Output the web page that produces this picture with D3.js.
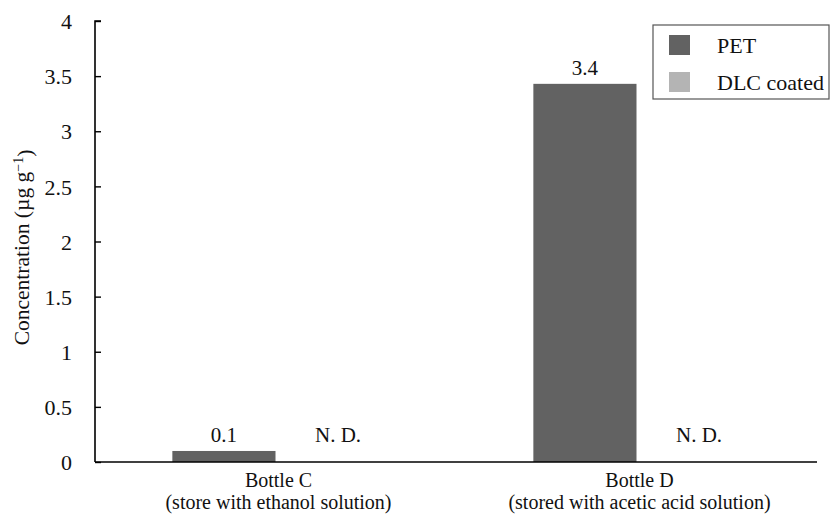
<!DOCTYPE html>
<html>
<head>
<meta charset="utf-8">
<script src="https://cdn.jsdelivr.net/npm/d3@7"></script>
<style>
  html, body { margin: 0; padding: 0; background: #fff; }
  svg text { font-family: "Liberation Serif", "Tinos", "Times New Roman", "DejaVu Serif", serif; fill: #111; }
</style>
</head>
<body>
<svg id="chart" width="831" height="515"></svg>
<script>
// Bottles and their storage solutions
const bottles = ["Bottle C", "Bottle D"];
const solutions = ["(store with ethanol solution)", "(stored with acetic acid solution)"];
// Series: uncoated PET and DLC-coated bottles (null = not detected)
const seriesNames = ["PET", "DLC coated"];
const petValues = [0.1, 3.43];
const dlcValues = [null, null];
const seriesColors = ["#626262", "#b4b4b4"];
const yTicks = [0, 0.5, 1, 1.5, 2, 2.5, 3, 3.5, 4];

const FONT = '"Liberation Serif", "Tinos", "Times New Roman", "DejaVu Serif", serif';
const svg = d3.select("#chart");
const margin = { left: 95, right: 14, top: 21, bottom: 53 };
const W = 831, H = 515;

const x0 = d3.scaleBand().domain(bottles).range([margin.left, W - margin.right]).paddingInner(0).paddingOuter(0);
const x1 = d3.scaleBand().domain(seriesNames).range([0, x0.bandwidth()]).paddingInner(0).paddingOuter(0.75);
const y = d3.scaleLinear().domain([0, 4]).range([H - margin.bottom, margin.top]);

const rows = bottles.map((b, i) => ({ bottle: b, values: [petValues[i], dlcValues[i]] }));

function label(sel, size) {
  return sel.style("font-family", FONT).style("font-size", size + "px");
}

// Bars
const g = svg.append("g");
rows.forEach(r => {
  r.values.forEach((v, j) => {
    const bx = x0(r.bottle) + x1(seriesNames[j]);
    if (v === null) {
      label(g.append("text"), 21)
        .attr("x", bx + x1.bandwidth() / 2 + 11)
        .attr("y", y(0) - 20)
        .attr("text-anchor", "middle")
        .text("N. D.");
      return;
    }
    g.append("rect")
      .attr("x", bx)
      .attr("y", y(v))
      .attr("width", x1.bandwidth())
      .attr("height", y(0) - y(v))
      .attr("fill", seriesColors[j]);
    label(g.append("text"), 21)
      .attr("x", bx + x1.bandwidth() / 2)
      .attr("y", y(v) - 9)
      .attr("text-anchor", "middle")
      .text(v.toFixed(1));
  });
});

// Y axis with inward ticks
const yAxis = d3.axisRight(y).tickValues(yTicks).tickSize(6).tickFormat(d3.format("~g"));
const ya = svg.append("g").attr("transform", `translate(${margin.left},0)`).call(yAxis);
ya.attr("font-family", null).attr("font-size", null);
ya.select(".domain").attr("stroke", "#000").attr("stroke-width", 1.6).attr("d", `M6,${y(4)}H0V${y(0)}`);
ya.selectAll(".tick line").attr("stroke", "#000").attr("stroke-width", 1.4);
label(ya.selectAll(".tick text"), 22)
  .attr("x", -23).attr("dy", "0.35em").attr("text-anchor", "end").attr("fill", "#111");

// X axis baseline
svg.append("line")
  .attr("x1", margin.left).attr("x2", W - margin.right)
  .attr("y1", y(0)).attr("y2", y(0))
  .attr("stroke", "#000").attr("stroke-width", 1.6);

// Category labels (two lines each)
bottles.forEach((b, i) => {
  const cx = x0(b) + x0.bandwidth() / 2 + 3;
  label(svg.append("text"), 20).attr("x", cx).attr("y", y(0) + 25).attr("text-anchor", "middle").text(b);
  label(svg.append("text"), 20).attr("x", cx).attr("y", y(0) + 47).attr("text-anchor", "middle").text(solutions[i]);
});

// Y axis title
const yt = label(svg.append("text"), 21.5)
  .attr("transform", `translate(29,${(y(0) + y(4)) / 2 + 6}) rotate(-90)`)
  .attr("text-anchor", "middle");
yt.append("tspan").text("Concentration (µg g");
yt.append("tspan").attr("dy", "-0.45em").style("font-size", "14px").text("−1");
yt.append("tspan").attr("dy", "0.45em").text(")");

// Legend
const lg = svg.append("g").attr("transform", "translate(653,25)");
lg.append("rect").attr("x", 0).attr("y", 0).attr("width", 176).attr("height", 74)
  .attr("fill", "#fff").attr("stroke", "#555").attr("stroke-width", 1.2);
seriesNames.forEach((s, i) => {
  lg.append("rect").attr("x", 16).attr("y", 10 + i * 37).attr("width", 21).attr("height", 20)
    .attr("fill", seriesColors[i]);
  label(lg.append("text"), 22).attr("x", 64).attr("y", 28 + i * 37).text(s);
});
</script>
</body>
</html>
